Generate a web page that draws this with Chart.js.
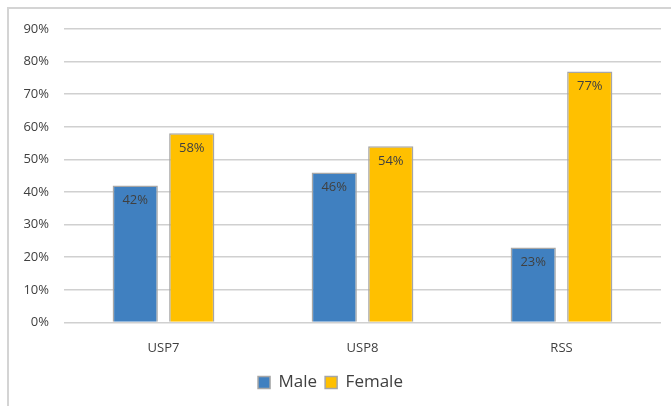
<!DOCTYPE html>
<html>
<head>
<meta charset="utf-8">
<script src="https://cdn.jsdelivr.net/npm/chart.js@4/dist/chart.umd.min.js"></script>
<style>
    html, body { margin: 0; padding: 0; background: #fff; overflow: hidden; }
    #wrap { position: relative; width: 671px; height: 406px; }
    #frame { position: absolute; left: 7px; top: 7px; width: 700px; height: 440px; border: 2px solid #d4d4d4; box-sizing: border-box; }
    canvas { position: absolute; left: 0; top: 0; }
</style>
</head>
<body>
<div id="wrap">
    <div id="frame"></div>
    <canvas id="chart" width="671" height="406"></canvas>
</div>
<script>
const labels = ['USP7', 'USP8', 'RSS'];
const maleValues = [0.42, 0.46, 0.23];
const femaleValues = [0.58, 0.54, 0.77];

const pctLabels = {
    id: 'pctLabels',
    afterDatasetsDraw(chart) {
        const ctx = chart.ctx;
        ctx.save();
        ctx.font = '13px "Open Sans"';
        ctx.fillStyle = '#404040';
        ctx.textAlign = 'center';
        ctx.textBaseline = 'middle';
        chart.data.datasets.forEach((ds, i) => {
            chart.getDatasetMeta(i).data.forEach((bar, j) => {
                ctx.fillText(Math.round(ds.data[j] * 100) + '%', bar.x, bar.y + 15);
            });
        });
        ctx.restore();
    }
};

new Chart('chart', {
    type: 'bar',
    data: {
        labels: labels,
        datasets: [
            {
                label: 'Male',
                backgroundColor: '#4080c0',
                borderColor: '#a6a6a6',
                borderWidth: 1.5,
                data: maleValues
            },
            {
                label: 'Female',
                backgroundColor: '#ffc000',
                borderColor: '#a6a6a6',
                borderWidth: 1.5,
                data: femaleValues
            }
        ]
    },
    options: {
        responsive: false,
        animation: false,
        categoryPercentage: 0.568,
        barPercentage: 0.8,
        layout: { padding: { top: 29, right: 10, bottom: 5, left: 0 } },
        scales: {
            x: {
                grid: { display: false },
                border: { display: false },
                ticks: { color: '#404040', font: { family: 'Open Sans', size: 13 }, padding: 10 }
            },
            y: {
                min: 0,
                max: 0.9,
                afterFit(scale) { scale.width = 64; },
                grid: { color: '#d0d0d0', lineWidth: 1.5, drawTicks: false },
                border: { display: false },
                ticks: {
                    stepSize: 0.1,
                    padding: 15,
                    color: '#404040',
                    font: { family: 'Open Sans', size: 13 },
                    callback: v => Math.round(v * 100) + '%'
                }
            }
        },
        plugins: {
            legend: {
                display: true,
                position: 'bottom',
                labels: {
                    color: '#404040',
                    font: { family: 'Open Sans', size: 17 },
                    boxWidth: 12,
                    boxHeight: 12,
                    padding: 8
                }
            },
            tooltip: { enabled: false }
        }
    },
    plugins: [pctLabels]
});
</script>
</body>
</html>
